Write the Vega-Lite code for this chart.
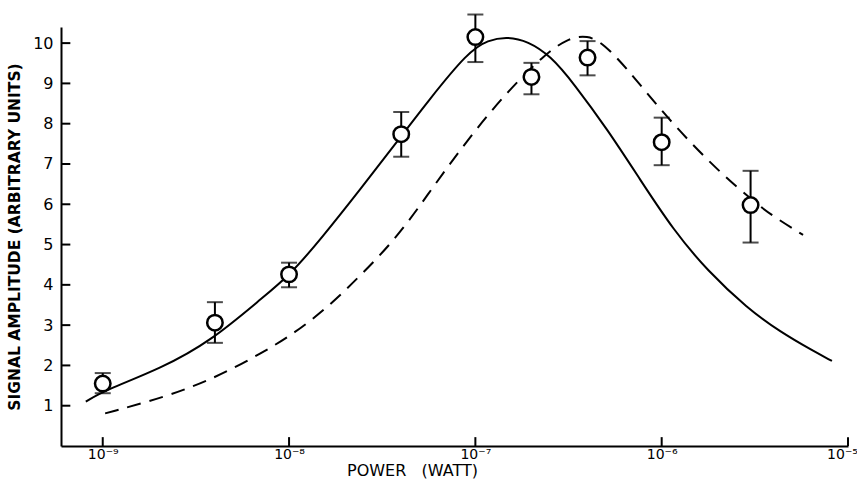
{
  "$schema": "https://vega.github.io/schema/vega-lite/v6.json",
  "width": 787,
  "height": 419,
  "autosize": {"type": "none"},
  "padding": {"left": 61, "top": 27, "right": 9, "bottom": 35},
  "background": "white",
  "config": {
    "view": {"stroke": null},
    "font": "DejaVu Sans",
    "axis": {
      "grid": false,
      "ticks": false,
      "domainColor": "black",
      "domainWidth": 2,
      "labelColor": "black",
      "titleColor": "black",
      "labelFont": "DejaVu Sans",
      "titleFont": "DejaVu Sans"
    }
  },
  "datasets": {
    "points": [
      {"power": 1e-9, "amp": 1.55, "lo": 1.31, "hi": 1.81},
      {"power": 4e-9, "amp": 3.06, "lo": 2.56, "hi": 3.57},
      {"power": 1e-8, "amp": 4.26, "lo": 3.94, "hi": 4.55},
      {"power": 4e-8, "amp": 7.74, "lo": 7.18, "hi": 8.29},
      {"power": 1e-7, "amp": 10.15, "lo": 9.53, "hi": 10.71},
      {"power": 2e-7, "amp": 9.16, "lo": 8.73, "hi": 9.51},
      {"power": 4e-7, "amp": 9.64, "lo": 9.2, "hi": 10.05},
      {"power": 1e-6, "amp": 7.54, "lo": 6.97, "hi": 8.15},
      {"power": 3e-6, "amp": 5.98, "lo": 5.05, "hi": 6.83}
    ],
    "xticks": [
      {"power": 1e-9, "y0": 0, "y1": 0.22},
      {"power": 1e-8, "y0": 0, "y1": 0.22},
      {"power": 1e-7, "y0": 0, "y1": 0.22},
      {"power": 1e-6, "y0": 0, "y1": 0.22},
      {"power": 1e-5, "y0": 0, "y1": 0.22}
    ],
    "yticks": [
      {"x0": 5.97e-10, "x1": 6.7e-10, "amp": 1},
      {"x0": 5.97e-10, "x1": 6.7e-10, "amp": 2},
      {"x0": 5.97e-10, "x1": 6.7e-10, "amp": 3},
      {"x0": 5.97e-10, "x1": 6.7e-10, "amp": 4},
      {"x0": 5.97e-10, "x1": 6.7e-10, "amp": 5},
      {"x0": 5.97e-10, "x1": 6.7e-10, "amp": 6},
      {"x0": 5.97e-10, "x1": 6.7e-10, "amp": 7},
      {"x0": 5.97e-10, "x1": 6.7e-10, "amp": 8},
      {"x0": 5.97e-10, "x1": 6.7e-10, "amp": 9},
      {"x0": 5.97e-10, "x1": 6.7e-10, "amp": 10}
    ],
    "solid": [
      {"power": 8.11e-10, "amp": 1.1},
      {"power": 1.01e-9, "amp": 1.37},
      {"power": 2.07e-9, "amp": 1.93},
      {"power": 3.84e-9, "amp": 2.62},
      {"power": 7.1e-9, "amp": 3.66},
      {"power": 1.0e-8, "amp": 4.22},
      {"power": 1.49e-8, "amp": 5.15},
      {"power": 2.44e-8, "amp": 6.4},
      {"power": 3.94e-8, "amp": 7.65},
      {"power": 5.57e-8, "amp": 8.56},
      {"power": 9.12e-8, "amp": 9.78},
      {"power": 1.17e-7, "amp": 10.08},
      {"power": 1.49e-7, "amp": 10.16},
      {"power": 1.91e-7, "amp": 10.05},
      {"power": 2.54e-7, "amp": 9.68},
      {"power": 3.37e-7, "amp": 9.0},
      {"power": 5.13e-7, "amp": 7.85},
      {"power": 7.69e-7, "amp": 6.6},
      {"power": 1.16e-6, "amp": 5.35},
      {"power": 1.76e-6, "amp": 4.35},
      {"power": 2.88e-6, "amp": 3.42},
      {"power": 4.33e-6, "amp": 2.83},
      {"power": 6.5e-6, "amp": 2.36},
      {"power": 8.2e-6, "amp": 2.11}
    ],
    "dashed": [
      {"power": 1.03e-9, "amp": 0.81},
      {"power": 2.15e-9, "amp": 1.21},
      {"power": 3.98e-9, "amp": 1.68},
      {"power": 7.1e-9, "amp": 2.3},
      {"power": 1.07e-8, "amp": 2.8},
      {"power": 1.62e-8, "amp": 3.45},
      {"power": 2.44e-8, "amp": 4.25},
      {"power": 3.66e-8, "amp": 5.1},
      {"power": 5.11e-8, "amp": 6.0},
      {"power": 6.53e-8, "amp": 6.7},
      {"power": 9.82e-8, "amp": 7.8},
      {"power": 1.49e-7, "amp": 8.8},
      {"power": 2.33e-7, "amp": 9.7},
      {"power": 3.13e-7, "amp": 10.12},
      {"power": 4.0e-7, "amp": 10.2},
      {"power": 4.9e-7, "amp": 9.98},
      {"power": 6.56e-7, "amp": 9.35},
      {"power": 9.48e-7, "amp": 8.44},
      {"power": 1.43e-6, "amp": 7.52},
      {"power": 2.14e-6, "amp": 6.72},
      {"power": 3.1e-6, "amp": 6.08},
      {"power": 3.96e-6, "amp": 5.7},
      {"power": 5.74e-6, "amp": 5.24}
    ]
  },
  "encoding": {
    "x": {
      "field": "power",
      "type": "quantitative",
      "scale": {"type": "log", "domain": [5.97e-10, 1e-5], "nice": false},
      "axis": {
        "title": "POWER\u00a0\u00a0\u00a0(WATT)",
        "titleFontSize": 16,
        "titleFontWeight": "normal",
        "titleX": 351,
        "titlePadding": 1,
        "values": [1e-9, 1e-8, 1e-7, 1e-6, 1e-5],
        "labelExpr": "'10' + (round(log(datum.value)/LN10) == -9 ? '⁻⁹' : round(log(datum.value)/LN10) == -8 ? '⁻⁸' : round(log(datum.value)/LN10) == -7 ? '⁻⁷' : round(log(datum.value)/LN10) == -6 ? '⁻⁶' : '⁻⁵')",
        "labelFontSize": 14,
        "labelPadding": 1,
        "labelFlush": false,
        "labelOffset": {"condition": {"test": "datum.value > 5e-6", "value": -6}, "value": 0}
      }
    },
    "y": {
      "field": "amp",
      "type": "quantitative",
      "scale": {"domain": [0, 10.4], "nice": false, "zero": true},
      "axis": {
        "title": "SIGNAL AMPLITUDE (ARBITRARY UNITS)",
        "titleFontSize": 15.5,
        "titleFontWeight": "bold",
        "titlePadding": 10,
        "values": [1, 2, 3, 4, 5, 6, 7, 8, 9, 10],
        "labelFontSize": 16,
        "labelPadding": 8
      }
    }
  },
  "layer": [
    {
      "data": {"name": "xticks"},
      "mark": {"type": "rule", "color": "black", "strokeWidth": 2},
      "encoding": {"y": {"field": "y0", "type": "quantitative"}, "y2": {"field": "y1"}}
    },
    {
      "data": {"name": "yticks"},
      "mark": {"type": "rule", "color": "black", "strokeWidth": 2},
      "encoding": {"x": {"field": "x0", "type": "quantitative"}, "x2": {"field": "x1"}}
    },
    {
      "data": {"name": "solid"},
      "mark": {"type": "line", "color": "black", "strokeWidth": 2, "interpolate": "basis"}
    },
    {
      "data": {"name": "dashed"},
      "mark": {"type": "line", "color": "black", "strokeWidth": 2, "interpolate": "basis", "strokeDash": [14, 9]}
    },
    {
      "data": {"name": "points"},
      "mark": {"type": "rule", "color": "black", "strokeWidth": 2},
      "encoding": {"y": {"field": "lo", "type": "quantitative"}, "y2": {"field": "hi"}}
    },
    {
      "data": {"name": "points"},
      "mark": {"type": "tick", "color": "black", "orient": "horizontal", "size": 16, "thickness": 2},
      "encoding": {"y": {"field": "lo", "type": "quantitative"}}
    },
    {
      "data": {"name": "points"},
      "mark": {"type": "tick", "color": "black", "orient": "horizontal", "size": 16, "thickness": 2},
      "encoding": {"y": {"field": "hi", "type": "quantitative"}}
    },
    {
      "data": {"name": "points"},
      "mark": {"type": "point", "shape": "circle", "size": 240, "filled": false, "fill": "white", "fillOpacity": 1, "stroke": "black", "strokeWidth": 2.5, "opacity": 1}
    }
  ]
}
